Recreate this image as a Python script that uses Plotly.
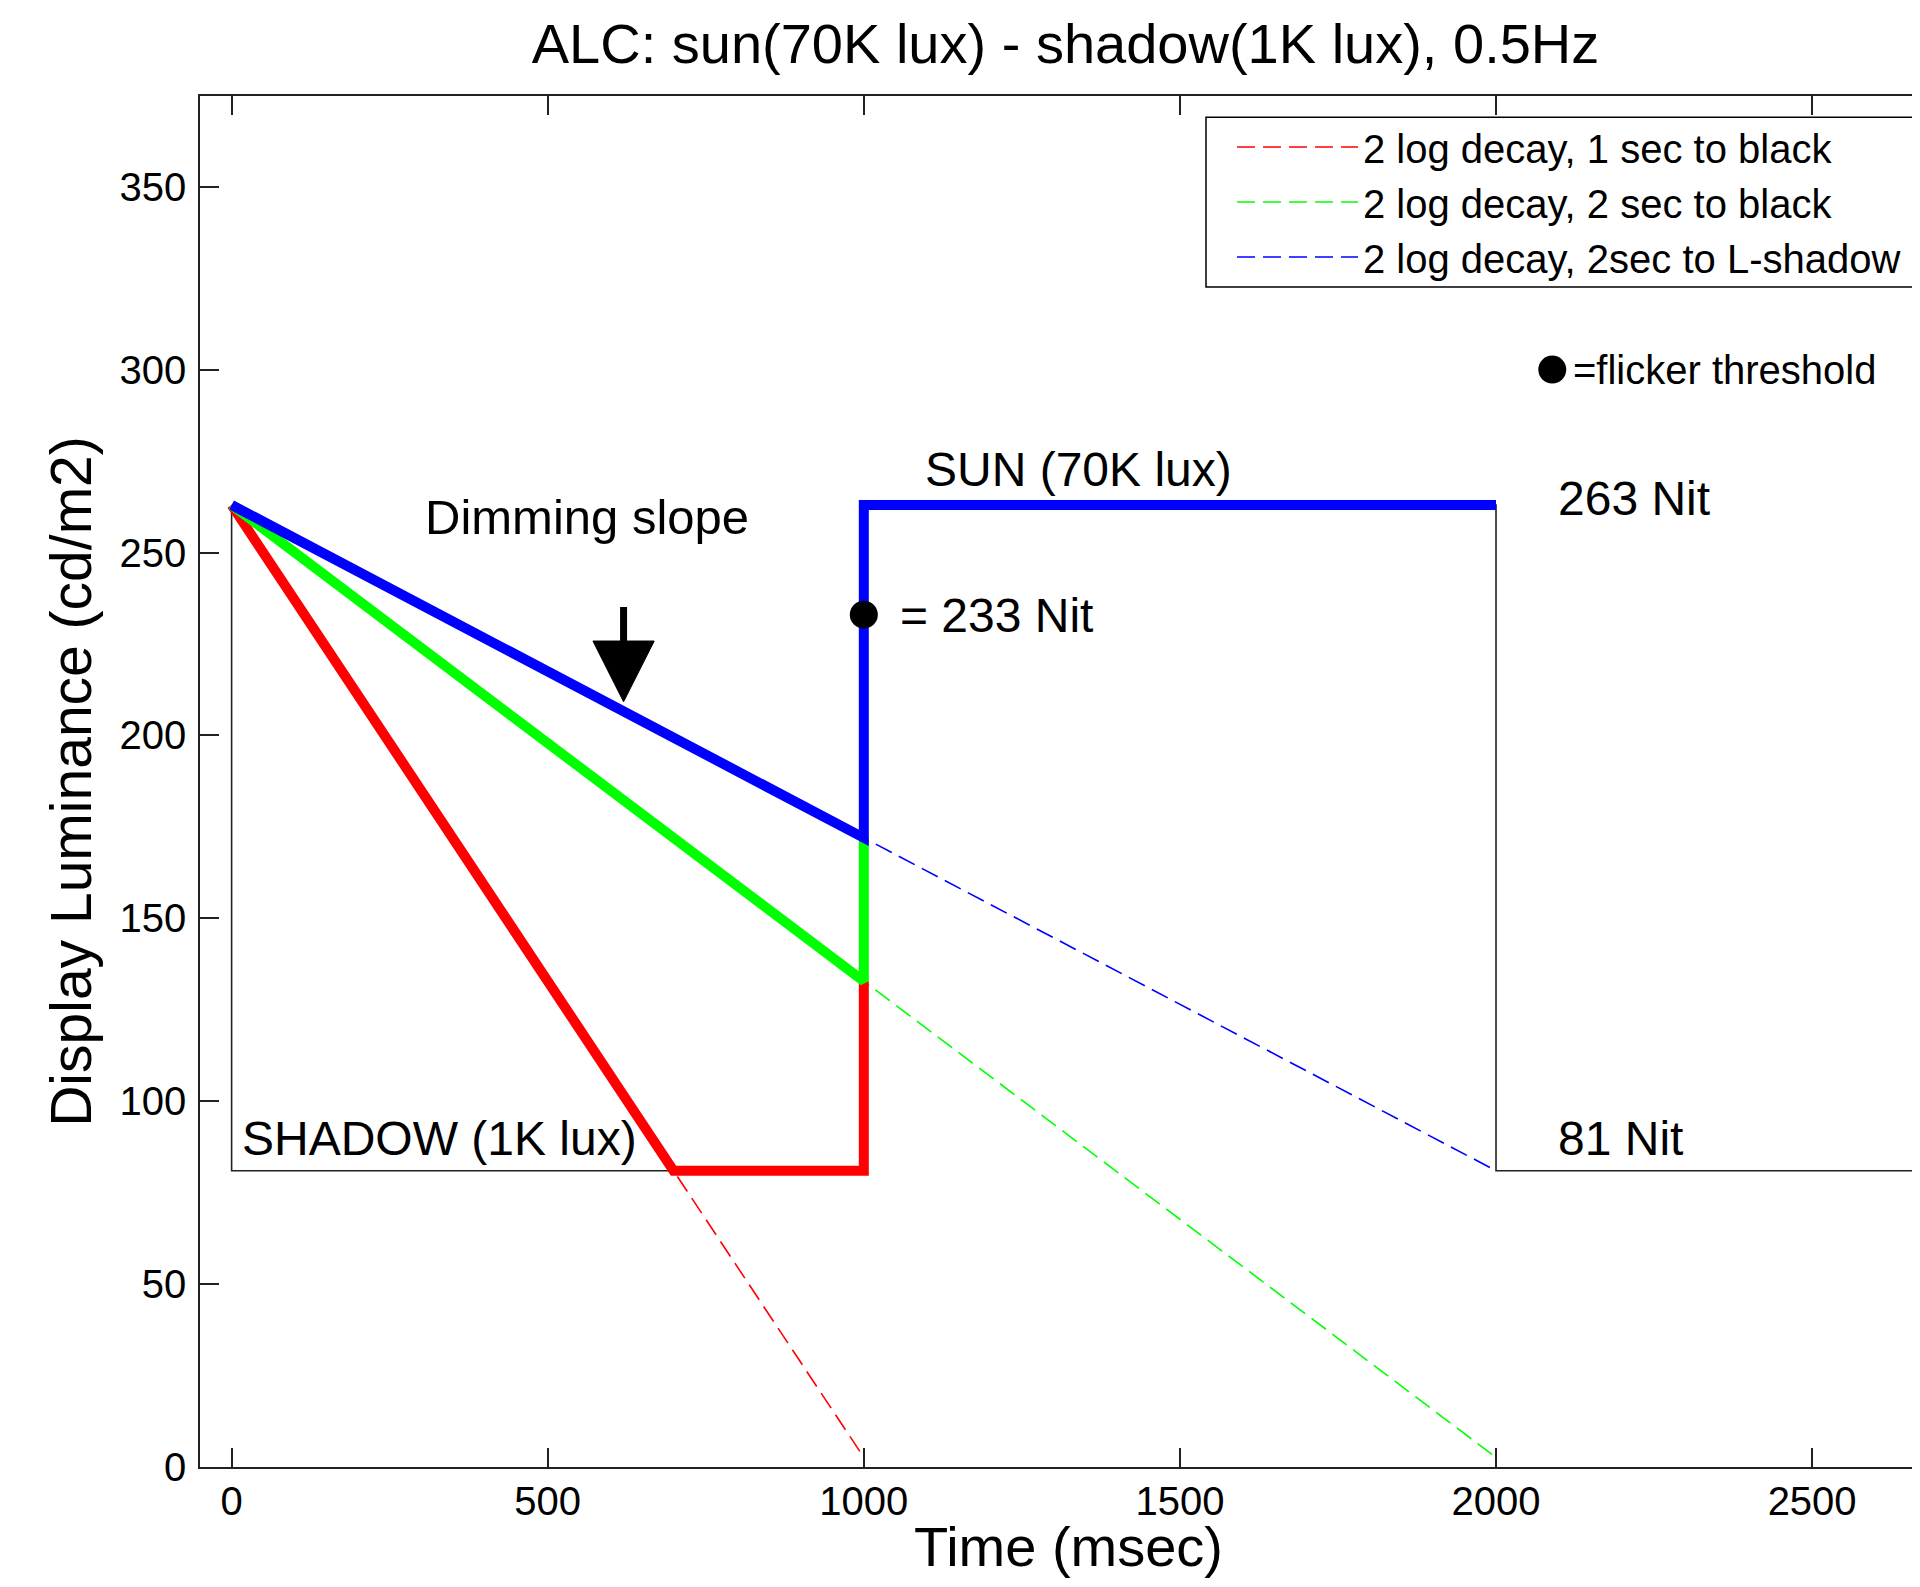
import plotly.graph_objects as go

# ---------------- data ----------------
# dashed decay curves (legend entries)
red_decay_t = [0, 1000]
red_decay_y = [263, 2.63]
green_decay_t = [0, 2000]
green_decay_y = [263, 2.63]
blue_decay_t = [0, 2000]
blue_decay_y = [263, 81]

# thick ALC response paths
red_path_t = [0, 699, 1000, 1000]
red_path_y = [263, 81, 81, 132.8]
green_path_t = [0, 1000, 1000]
green_path_y = [263, 132.8, 172]
blue_path_t = [0, 1000, 1000, 2000]
blue_path_y = [263, 172, 263, 263]

# ambient square wave (sun / shadow)
square_t = [0, 0, 1000, 1000, 2000, 2000, 3000]
square_y = [263, 81, 81, 263, 263, 81, 81]

# flicker threshold point
flicker_t = [1000]
flicker_y = [233]
flicker_key_t = [2089]
flicker_key_y = [300]

x_ticks = [0, 500, 1000, 1500, 2000, 2500]
y_ticks = [0, 50, 100, 150, 200, 250, 300, 350]

legend_names = ["2 log decay, 1 sec to black",
                "2 log decay, 2 sec to black",
                "2 log decay, 2sec to L-shadow"]

# annotation positions (data coordinates)
arrow_x = 620
arrow_top = 235.1
arrow_base = 225.8
arrow_tip = 209.2
arrow_half_w = 48.5

FONT = "Liberation Sans, Arial, Helvetica, sans-serif"
OFF = 8  # page body margin
W, H = 1904, 1571
ML, MR, MT, MB = 192, 0, 88, 112
PW, PH = W - ML - MR, H - MT - MB

def px_x(p):
    # page pixel -> paper coordinate
    return (p - OFF - ML) / PW

def px_y(p):
    return 1 - (p - OFF - MT) / PH

fig = go.Figure()

dash = "18px,8px"
for t, y, c, n in [(red_decay_t, red_decay_y, "#FF0000", legend_names[0]),
                   (green_decay_t, green_decay_y, "#00FF00", legend_names[1]),
                   (blue_decay_t, blue_decay_y, "#0000FF", legend_names[2])]:
    fig.add_trace(go.Scatter(x=t, y=y, mode="lines", name=n,
                             line=dict(color=c, width=1.6, dash=dash)))

fig.add_trace(go.Scatter(x=square_t, y=square_y, mode="lines", showlegend=False,
                         line=dict(color="#222222", width=1.6)))

for t, y, c in [(red_path_t, red_path_y, "#FF0000"),
                (green_path_t, green_path_y, "#00FF00"),
                (blue_path_t, blue_path_y, "#0000FF")]:
    fig.add_trace(go.Scatter(x=t, y=y, mode="lines", showlegend=False,
                             line=dict(color=c, width=10)))

fig.add_trace(go.Scatter(x=flicker_t, y=flicker_y, mode="markers", showlegend=False,
                         marker=dict(color="black", size=28)))
fig.add_trace(go.Scatter(x=flicker_key_t, y=flicker_key_y, mode="markers", showlegend=False,
                         marker=dict(color="black", size=28), cliponaxis=False))

ann = []
def txt(x, y, s, size):
    ann.append(dict(x=x, y=y, xref="x", yref="y", text=s, showarrow=False,
                    xanchor="left", yanchor="middle",
                    font=dict(family=FONT, size=size, color="black")))

txt(303, 259.8, "Dimming slope", 49)
txt(1093, 272.8, "SUN (70K lux)", 48)
txt(2095, 264.9, "263 Nit", 48)
txt(2095, 89.9, "81 Nit", 48)
txt(14, 89.7, "SHADOW (1K lux)", 48)
txt(1054, 232.9, "= 233 Nit", 48)
txt(2118, 300, "=flicker threshold", 40)

# x-axis title (placed as an annotation so it centres like the original, wider axes)
ann.append(dict(x=px_x(1068), y=px_y(1546), xref="paper", yref="paper",
                text="Time (msec)", showarrow=False, xanchor="center", yanchor="middle",
                font=dict(family=FONT, size=56, color="black")))

shapes = [
    # legend box
    dict(type="rect", xref="paper", yref="paper",
         x0=px_x(1206), x1=1.2, y0=px_y(287), y1=px_y(117.3),
         line=dict(color="black", width=1.5), fillcolor="white", layer="below"),
    # arrow shaft
    dict(type="line", xref="x", yref="y", x0=arrow_x, x1=arrow_x,
         y0=arrow_top, y1=arrow_base, line=dict(color="black", width=7)),
    # arrow head
    dict(type="path", xref="x", yref="y",
         path=f"M {arrow_x - arrow_half_w},{arrow_base} L {arrow_x + arrow_half_w},{arrow_base} "
              f"L {arrow_x},{arrow_tip} Z",
         fillcolor="black", line=dict(color="black", width=1)),
]

axis_common = dict(showgrid=False, zeroline=False, showline=True, linecolor="#222222",
                   linewidth=1.5, ticks="inside", ticklen=19, tickwidth=1.5,
                   tickcolor="#222222",
                   tickfont=dict(family=FONT, size=40, color="black"))

fig.update_layout(
    width=W, height=H,
    margin=dict(l=ML, r=MR, t=MT, b=MB),
    paper_bgcolor="white", plot_bgcolor="white",
    title=dict(text="ALC: sun(70K lux) - shadow(1K lux), 0.5Hz",
               x=(1065.5 - OFF) / W, xref="container", xanchor="center",
               y=1 - (43 - OFF) / H, yref="container", yanchor="middle",
               font=dict(family=FONT, size=56, color="black")),
    xaxis=dict(range=[-50, 2658], tickvals=x_ticks, mirror="ticks",
               ticklabelstandoff=-2,
               **axis_common),
    yaxis=dict(range=[0, 374.8], tickvals=y_ticks, mirror=False,
               ticklabelstandoff=4,
               title=dict(text="Display Luminance (cd/m2)", standoff=10,
                          font=dict(family=FONT, size=57, color="black")),
               **axis_common),
    legend=dict(x=px_x(1232), xanchor="left", y=px_y(114.5), yanchor="top",
                bgcolor="rgba(0,0,0,0)", borderwidth=0, itemwidth=121,
                font=dict(family=FONT, size=40, color="black")),
    annotations=ann,
    shapes=shapes,
)

fig.write_html("out.html")
